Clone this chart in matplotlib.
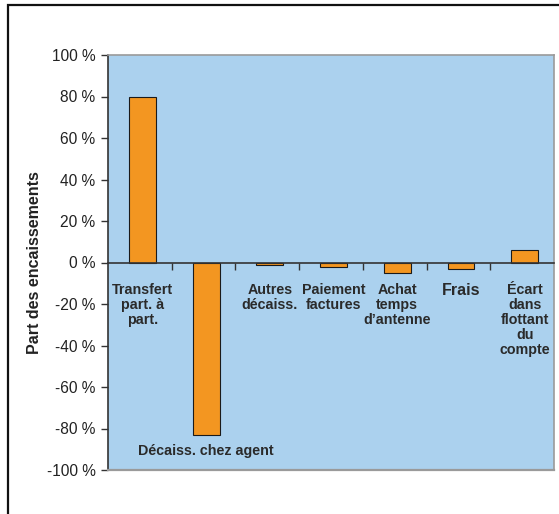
import matplotlib
matplotlib.use("Agg")
import matplotlib.pyplot as plt
from matplotlib.patches import Rectangle

plt.rcParams['font.family'] = ['Liberation Sans', 'DejaVu Sans']

categories = ["Transfert\npart. à\npart.", "Décaiss. chez agent", "Autres\ndécaiss.",
              "Paiement\nfactures", "Achat\ntemps\nd\u2019antenne", "Frais",
              "Écart\ndans\nflottant\ndu\ncompte"]
values = [80, -83, -1, -2, -5, -3, 6]
yticks = [-100, -80, -60, -40, -20, 0, 20, 40, 60, 80, 100]
ytick_labels = ["-100 %", "-80 %", "-60 %", "-40 %", "-20 %", "0 %",
                "20 %", "40 %", "60 %", "80 %", "100 %"]
ylabel = "Part des encaissements"

W, H = 559, 514
fig = plt.figure(figsize=(W / 100, H / 100), dpi=100)
fig.patch.set_facecolor('white')

# outer frame (clipped at right and bottom)
fig.patches.append(Rectangle((8 / W, -0.2), 1.2, 1.2 - 5 / H,
                             transform=fig.transFigure, fill=False,
                             edgecolor='#111111', linewidth=1.6))

left, right = 108 / W, 554 / W
top, bottom = 1 - 55 / H, 1 - 470 / H
ax = fig.add_axes([left, bottom, right - left, top - bottom])
ax.set_facecolor('#ABD1EE')

x = [i + 0.04 for i in range(len(categories))]
ax.bar(x, values, width=0.42, color='#F39621', edgecolor='#1a1a1a', linewidth=0.8, zorder=3)

ax.set_xlim(-0.5, len(categories) - 0.5)
ax.set_ylim(-100, 100)
ax.set_yticks(yticks)
ax.set_yticklabels(ytick_labels, fontsize=11.2, color='#222222')
ax.tick_params(axis='y', direction='out', length=5, width=1, color='#333333', pad=4)

ax.spines['bottom'].set_position(('data', 0))
ax.spines['bottom'].set_color('#333333')
ax.spines['bottom'].set_linewidth(1.2)
ax.spines['bottom'].set_zorder(4)
ax.set_xticks([i + 0.5 for i in range(len(categories) - 1)])
ax.set_xticklabels([])
ax.tick_params(axis='x', direction='out', length=5, width=1, color='#333333')

ax.spines['left'].set_color('#333333')
ax.spines['left'].set_linewidth(1.2)
for s in ('top', 'right'):
    ax.spines[s].set_color('#9a9a9a')
    ax.spines[s].set_linewidth(1.2)
ax.axhline(-100, color='#9a9a9a', linewidth=1.6, clip_on=False, zorder=5)

for i, lab in enumerate(categories):
    if values[i] < -50:
        ax.text(i + 0.04, -91, lab, ha='center', va='center', fontsize=10.3,
                fontweight='bold', color='#2a2a2a')
    else:
        fs = 11.5 if lab == "Frais" else 10.3
        ax.text(i + 0.04, -9.8, lab, ha='center', va='top', fontsize=fs,
                fontweight='bold', color='#2a2a2a', linespacing=1.1)

ax.set_ylabel(ylabel, fontsize=11.5, fontweight='bold', color='#222222')
ax.yaxis.set_label_coords((42 - 108) / (554 - 108), 0.5)

fig.savefig('out.png', dpi=100)
